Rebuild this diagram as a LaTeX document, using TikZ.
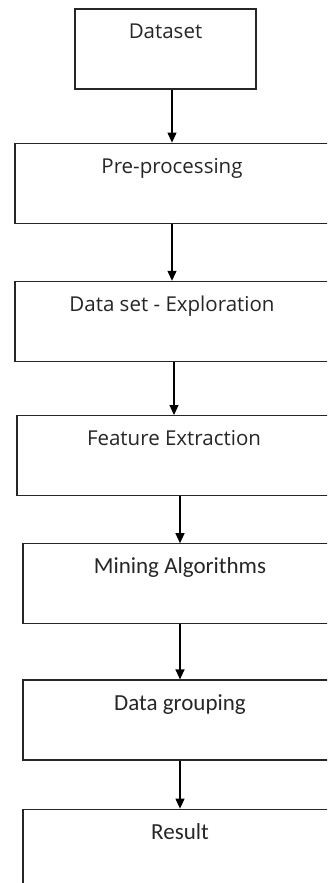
\documentclass[tikz,border=0pt]{standalone}
\usepackage{fontspec}
\newfontfamily\uifont{Open Sans}
\newfontfamily\bodyfont{Carlito}
\usetikzlibrary{arrows.meta,positioning}

\begin{document}
\begin{tikzpicture}[
  x=1pt,y=1pt,
  node distance=53pt,
  stepbox/.style={rectangle,draw=black!85,line width=1.2pt,inner sep=0pt,
    minimum width=314pt,text height=30pt,text depth=50pt,text=black!85},
  ui/.style={font=\uifont\fontsize{20.5}{24}\selectfont},
  cal/.style={font=\bodyfont\fontsize{23}{27}\selectfont},
  >={Triangle[width=9pt,length=10pt]}
]
\useasboundingbox (0,0) rectangle (327,-883);
\clip (0,0) rectangle (327,-883);

\node[stepbox,ui,minimum width=181pt] (data) at (165.5,-49) {Dataset};
\node[stepbox,ui,below=53pt of data,xshift=6.5pt] (pre) {Pre-processing};
\node[stepbox,ui,below=57pt of pre] (explore) {Data set - Exploration};
\node[stepbox,ui,below=53pt of explore,xshift=2pt] (feat) {Feature Extraction};
\node[stepbox,cal,below=47pt of feat,xshift=6pt] (mining) {Mining Algorithms};
\node[stepbox,cal,below=55pt of mining] (group) {Data grouping};
\node[stepbox,cal,below=48pt of group,text depth=60pt] (result) {Result};

\draw[->,line width=1.2pt] (data.south -| pre.north) -- (pre.north);
\draw[->,line width=1.2pt] (pre.south) -- (explore.north);
\draw[->,line width=1.2pt] (explore.south -| feat.north) -- (feat.north);
\draw[->,line width=1.2pt] (feat.south -| mining.north) -- (mining.north);
\draw[->,line width=1.2pt] (mining.south) -- (group.north);
\draw[->,line width=1.2pt] (group.south) -- (result.north);
\end{tikzpicture}
\end{document}
